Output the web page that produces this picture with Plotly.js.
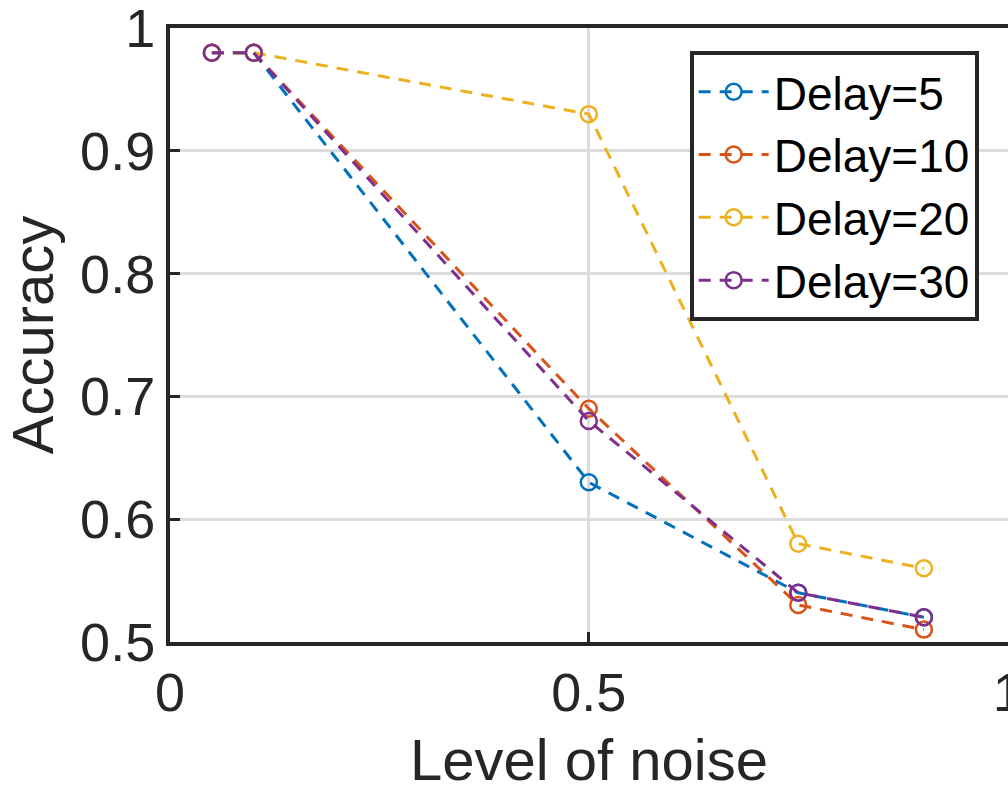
<!DOCTYPE html>
<html>
<head>
<meta charset="utf-8">
<script src="https://cdn.plot.ly/plotly-3.0.1.min.js"></script>
<style>html,body{margin:0;padding:0;background:#fff;}#chart{width:1008px;height:795px;}</style>
</head>
<body>
<div id="chart"></div>
<script>
var noise = [0.05, 0.1, 0.5, 0.75, 0.9];
var delay5 = [0.98, 0.98, 0.63, 0.54, 0.52];
var delay10 = [0.98, 0.98, 0.69, 0.53, 0.51];
var delay20 = [0.98, 0.98, 0.93, 0.58, 0.56];
var delay30 = [0.98, 0.98, 0.68, 0.54, 0.52];
var seriesNames = ['Delay=5', 'Delay=10', 'Delay=20', 'Delay=30'];
var seriesValues = [delay5, delay10, delay20, delay30];
var colors = ['#0072BD', '#D95319', '#EDB120', '#7E2F8E'];
var xTicks = [0, 0.5, 1];
var xTickLabels = ['0', '0.5', '1'];
var yTicks = [0.5, 0.6, 0.7, 0.8, 0.9, 1];
var yTickLabels = ['0.5', '0.6', '0.7', '0.8', '0.9', '1'];

var font = 'Liberation Sans, Arial, Helvetica, sans-serif';
var traces = seriesValues.map(function (vals, i) {
  return {
    x: noise, y: vals, name: seriesNames[i], type: 'scatter', mode: 'lines+markers',
    line: {color: colors[i], width: 3, dash: '12px,9px'},
    marker: {symbol: 'circle-open', size: 16, color: colors[i], line: {width: 2.5, color: colors[i]}}
  };
});

var layout = {
  width: 1008, height: 795,
  margin: {l: 170, r: 0, t: 28, b: 153},
  paper_bgcolor: '#fff', plot_bgcolor: '#fff',
  font: {family: font, color: '#262626'},
  showlegend: true,
  legend: {
    x: 0.965, xanchor: 'right', y: 0.962, yanchor: 'top',
    bgcolor: '#fff', bordercolor: '#262626', borderwidth: 4,
    font: {family: font, size: 46, color: '#000'},
    itemwidth: 70,
    tracegroupgap: 0
  },
  xaxis: {
    range: [0, 1.0004], tickvals: xTicks, ticktext: xTickLabels,
    ticklabeloverflow: 'allow',
    showgrid: true, gridcolor: '#dcdcdc', gridwidth: 3,
    zeroline: false, showline: true, mirror: true, linecolor: '#262626', linewidth: 4,
    ticks: 'inside', ticklen: 10, tickwidth: 3, tickcolor: '#262626',
    tickfont: {family: font, size: 54, color: '#262626'},
    title: {text: 'Level of noise', font: {family: font, size: 58, color: '#262626'}, standoff: 20}
  },
  yaxis: {
    range: [0.4999, 1.0002], tickvals: yTicks, ticktext: yTickLabels,
    ticklabeloverflow: 'allow',
    showgrid: true, gridcolor: '#dcdcdc', gridwidth: 3,
    zeroline: false, showline: true, mirror: true, linecolor: '#262626', linewidth: 4,
    ticks: 'inside', ticklen: 10, tickwidth: 3, tickcolor: '#262626',
    tickfont: {family: font, size: 54, color: '#262626'},
    title: {text: 'Accuracy', font: {family: font, size: 58, color: '#262626'}, standoff: 15}
  }
};

Plotly.newPlot('chart', traces, layout, {displayModeBar: false, staticPlot: true});
</script>
</body>
</html>
